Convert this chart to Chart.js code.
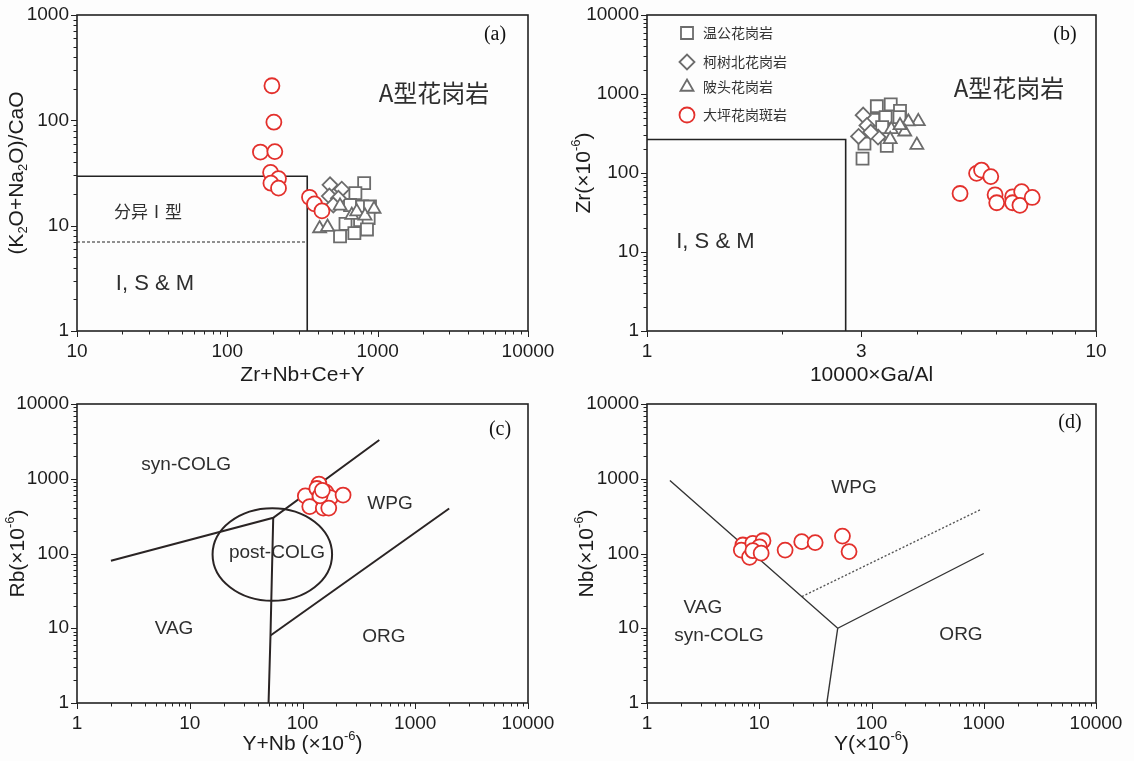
<!DOCTYPE html>
<html>
<head>
<meta charset="utf-8">
<script src="https://cdn.jsdelivr.net/npm/chart.js@4.4.1/dist/chart.umd.min.js"></script>
<style>
  html, body { margin: 0; padding: 0; background: #fdfdfd; }
  #wrap { position: relative; width: 1134px; height: 761px; overflow: hidden; background: #fdfdfd; }
  canvas { position: absolute; }
</style>
</head>
<body>
<div id="wrap">
  <canvas id="chartA" width="567" height="390" style="left:0;top:0;width:567px;height:390px"></canvas>
  <canvas id="chartB" width="567" height="390" style="left:567px;top:0;width:567px;height:390px"></canvas>
  <canvas id="chartC" width="567" height="371" style="left:0;top:390px;width:567px;height:371px"></canvas>
  <canvas id="chartD" width="567" height="371" style="left:567px;top:390px;width:567px;height:371px"></canvas>
</div>
<script>
// ---- sample groups ----
const groups = ['温公花岗岩', '柯树北花岗岩', '陂头花岗岩', '大坪花岗斑岩'];

// ---- (a) Zr+Nb+Ce+Y vs (K2O+Na2O)/CaO ----
const aWengong  = [[813,25.3],[711,20.4],[655,15.7],[790,15.2],[889,15.2],[611,10.4],[764,11.3],[871,11.8],[562,7.9],[700,8.5],[849,9.2]];
const aKeshubei = [[482,24.4],[577,22.2],[477,19.1],[548,18.2],[507,15.7]];
const aBeitou   = [[411,9.4],[464,9.7],[562,15.4],[673,12.6],[726,13.6],[824,12.4],[946,14.4]];
const aDaping   = [[198,213],[204,96],[166,50],[207,50.5],[194,32],[219,28],[195,25.3],[219,22.7],[352,18.6],[380,16.1],[426,13.8]];
const aBoundary = [[10,29.5],[340,29.5],[340,1]];
const aFractionated = [[10,7],[340,7]];
const aXLabels = [10, 100, 1000, 10000];
const aYLabels = [1, 10, 100, 1000];

// ---- (b) 10000*Ga/Al vs Zr ----
const bWengong  = [[3.25,700],[3.49,740],[3.66,610],[3.19,470],[3.40,510],[3.65,510],[3.34,380],[3.05,235],[3.42,220],[3.02,152]];
const bKeshubei = [[3.03,540],[3.09,400],[2.96,290],[3.27,285],[3.15,330]];
const bBeitou   = [[4.02,450],[3.99,226],[3.82,446],[3.50,357],[3.48,267],[3.75,333],[3.66,400]];
const bDaping   = [[4.98,55],[5.42,99],[5.56,109],[5.83,90],[5.96,53],[6.01,42],[6.52,50],[6.52,42],[6.83,58],[6.77,39],[7.21,49]];
const bBoundary = [[1,265],[2.77,265],[2.77,1]];
const bXLabels = [1, 3, 10];
const bYLabels = [1, 10, 100, 1000, 10000];

// ---- (c) Y+Nb vs Rb ----
const cDaping = [[106,590],[140,850],[134,740],[161,660],[177,560],[229,605],[116,425],[153,405],[171,405],[143,590],[150,700]];
const cSynWpg = [[2,80],[55,300],[480,3300]];
const cVagOrg = [[50,1],[52,8],[55,300]];
const cWpgOrg = [[52,8],[2000,400]];
const cPostColgCenter = [54, 97];      // ellipse centre (Y+Nb, Rb)
const cPostColgSpan = [0.53, 0.62];    // half axes, in decades
const cXLabels = [1, 10, 100, 1000, 10000];
const cYLabels = [1, 10, 100, 1000, 10000];

// ---- (d) Y vs Nb ----
const dDaping = [[7.15,130],[6.92,111],[8.77,137],[10.8,148],[10.05,123],[8.2,89],[8.77,109],[10.4,101],[17.0,111],[23.9,144],[31.5,140],[55.1,171],[63.1,106]];
const dVagWpg = [[1.6,950],[50,10],[1000,100]];
const dVagOrg = [[50,10],[40,1]];
const dWpgOrg = [[24,26.5],[930,385]];
const dXLabels = [1, 10, 100, 1000, 10000];
const dYLabels = [1, 10, 100, 1000, 10000];

// ---- styling ----
const FONT = '"Liberation Sans", Arial, sans-serif';
const CJK = '"Noto Sans CJK SC", sans-serif';
const SERIF = '"Liberation Serif", "Times New Roman", serif';
const RED = '#e3302c';
const GRAY = '#6c6c6c';
const INK = '#222222';
const FILL = '#ffffff';

const pts = arr => arr.map(([x, y]) => ({ x, y }));

function pointSet(label, data, style, color, radius, order) {
  return {
    type: 'scatter', label, data: pts(data), order,
    pointStyle: style, pointRadius: radius, pointHoverRadius: radius,
    pointBorderWidth: 1.8, pointBorderColor: color, pointBackgroundColor: FILL,
    borderColor: color, backgroundColor: FILL, showLine: false
  };
}
function lineSet(data, width, color, dash) {
  return {
    type: 'line', data: pts(data), order: 10, showLine: true, fill: false, tension: 0,
    borderColor: color, borderWidth: width, borderDash: dash || [], pointRadius: 0, pointHoverRadius: 0
  };
}

// decade ticks with the 2..9 minors in between
function tickValues(min, max) {
  const out = [];
  for (let d = min; d <= max * 1.0001; d *= 10) {
    for (let k = 1; k <= 9; k++) {
      const v = Math.round(d * k * 1e6) / 1e6;
      if (v <= max * 1.0001) out.push(v);
    }
  }
  return out;
}

function axis(dir, o) {
  return {
    type: 'logarithmic',
    position: dir === 'x' ? 'bottom' : 'left',
    min: o.min, max: o.max,
    afterBuildTicks(scale) { scale.ticks = tickValues(o.min, o.max).map(v => ({ value: v })); },
    ticks: {
      autoSkip: false, maxRotation: 0, minRotation: 0,
      padding: dir === 'x' ? 9 : 8,
      color: '#1c1c1c',
      font: { family: FONT, size: 19 },
      callback: v => o.labels.some(l => Math.abs(l - v) < 1e-9 * l) ? String(v) : ''
    },
    grid: { display: false, drawTicks: false },
    border: { display: false },
    afterFit(scale) {
      if (dir === 'x') scale.height = o.size; else scale.width = o.size;
      scale.paddingLeft = scale.paddingRight = scale.paddingTop = scale.paddingBottom = 0;
    }
  };
}

function richText(ctx, parts, x, y, size, rotate) {
  ctx.save();
  ctx.translate(x, y);
  if (rotate) ctx.rotate(-Math.PI / 2);
  ctx.textBaseline = 'middle';
  ctx.textAlign = 'left';
  ctx.fillStyle = '#1c1c1c';
  const fontFor = m => `${m ? Math.round(size * 0.6) : size}px ${FONT}`;
  const widths = parts.map(([t, m]) => { ctx.font = fontFor(m); return ctx.measureText(t).width; });
  let cx = -widths.reduce((s, w) => s + w, 0) / 2;
  parts.forEach(([t, m], i) => {
    ctx.font = fontFor(m);
    const dy = m === 'sub' ? size * 0.3 : m === 'sup' ? -size * 0.36 : 0;
    ctx.fillText(t, cx, dy);
    cx += widths[i];
  });
  ctx.restore();
}

function shape(ctx, style, x, y, r) {
  ctx.beginPath();
  if (style === 'rect') {
    const s = r * Math.SQRT1_2;
    ctx.rect(x - s, y - s, 2 * s, 2 * s);
  } else if (style === 'rectRot') {
    ctx.moveTo(x - r, y); ctx.lineTo(x, y - r); ctx.lineTo(x + r, y); ctx.lineTo(x, y + r); ctx.closePath();
  } else if (style === 'triangle') {
    ctx.moveTo(x, y - r); ctx.lineTo(x + 0.866 * r, y + 0.5 * r); ctx.lineTo(x - 0.866 * r, y + 0.5 * r); ctx.closePath();
  } else {
    ctx.arc(x, y, r, 0, Math.PI * 2);
  }
  ctx.fill();
  ctx.stroke();
}

// frame, tick marks, region names, axis titles, panel tag (and optional ellipse / legend)
function decorations(o) {
  return {
    id: 'decorations',
    beforeDatasetsDraw(chart) {
      const { ctx, chartArea: a } = chart;
      const xs = chart.scales.x, ys = chart.scales.y;
      ctx.save();
      // tick marks pointing outward
      ctx.strokeStyle = INK; ctx.lineWidth = 1;
      ctx.beginPath();
      xs.ticks.forEach(t => {
        const p = Math.round(xs.getPixelForValue(t.value)) + 0.5;
        const L = t.label ? 6 : 3.5;
        ctx.moveTo(p, a.bottom); ctx.lineTo(p, a.bottom + L);
      });
      ys.ticks.forEach(t => {
        const p = Math.round(ys.getPixelForValue(t.value)) + 0.5;
        const L = t.label ? 6 : 3.5;
        ctx.moveTo(a.left - L, p); ctx.lineTo(a.left, p);
      });
      ctx.stroke();
      // region names
      ctx.fillStyle = '#2e2e2e';
      ctx.textAlign = 'center'; ctx.textBaseline = 'middle';
      o.notes.forEach(n => {
        ctx.font = n.font;
        ctx.fillText(n.text, xs.getPixelForValue(n.x), ys.getPixelForValue(n.y));
      });
      // post-collisional field
      if (o.ellipse) {
        const [ex, ey] = o.ellipse.center, [sx, sy] = o.ellipse.span;
        const cx = xs.getPixelForValue(ex), cy = ys.getPixelForValue(ey);
        const rx = xs.getPixelForValue(ex * Math.pow(10, sx)) - cx;
        const ry = cy - ys.getPixelForValue(ey * Math.pow(10, sy));
        ctx.strokeStyle = '#2a2424'; ctx.lineWidth = 2;
        ctx.beginPath(); ctx.ellipse(cx, cy, rx, ry, 0, 0, Math.PI * 2); ctx.stroke();
      }
      ctx.restore();
    },
    afterDraw(chart) {
      const { ctx, chartArea: a } = chart;
      ctx.save();
      ctx.strokeStyle = INK; ctx.lineWidth = 1.6;
      ctx.strokeRect(a.left, a.top, a.right - a.left, a.bottom - a.top);
      // panel tag
      ctx.fillStyle = '#111'; ctx.font = `20px ${SERIF}`;
      ctx.textAlign = 'center'; ctx.textBaseline = 'middle';
      ctx.fillText(o.tag, a.right + o.tagAt[0], a.top + o.tagAt[1]);
      // axis titles
      richText(ctx, o.xTitle, (a.left + a.right) / 2, o.xTitleY, 21, false);
      richText(ctx, o.yTitle, o.yTitleX, (a.top + a.bottom) / 2, 21, true);
      // symbol key
      if (o.legend) {
        const rows = [18, 47, 72, 100];
        chart.data.datasets.filter(d => d.label).forEach((d, i) => {
          const y = a.top + rows[i];
          ctx.fillStyle = FILL; ctx.strokeStyle = d.pointBorderColor; ctx.lineWidth = 1.8;
          shape(ctx, d.pointStyle, a.left + 40, y, d.pointRadius);
          ctx.fillStyle = '#333'; ctx.font = `14px ${CJK}`;
          ctx.textAlign = 'left';
          ctx.fillText(d.label, a.left + 56, y);
        });
      }
      ctx.restore();
    }
  };
}

function build(id, o) {
  return new Chart(document.getElementById(id), {
    type: 'scatter',
    data: { datasets: o.datasets },
    options: {
      responsive: false, animation: false, events: [],
      layout: { padding: { top: o.pad.top, right: o.pad.right, bottom: 0, left: 0 } },
      plugins: { legend: { display: false }, tooltip: { enabled: false } },
      scales: { x: axis('x', o.x), y: axis('y', o.y) }
    },
    plugins: [decorations(o)]
  });
}

const SUP6 = [['-6', 'sup']];

build('chartA', {
  datasets: [
    pointSet(groups[0], aWengong, 'rect', GRAY, 8.5, 4),
    pointSet(groups[1], aKeshubei, 'rectRot', GRAY, 7.5, 3),
    pointSet(groups[2], aBeitou, 'triangle', GRAY, 7.5, 2),
    pointSet(groups[3], aDaping, 'circle', RED, 7.5, 1),
    lineSet(aBoundary, 1.6, INK),
    lineSet(aFractionated, 1.2, INK, [3, 2])
  ],
  x: { min: 10, max: 10000, labels: aXLabels, size: 59 },
  y: { min: 1, max: 1000, labels: aYLabels, size: 77 },
  pad: { top: 15, right: 39 },
  notes: [
    { text: 'A型花岗岩', x: 2370, y: 182, font: `24px ${CJK}` },
    { text: '分异Ⅰ型', x: 29.7, y: 13.5, font: `17px ${CJK}` },
    { text: 'I, S & M', x: 33, y: 2.8, font: `22px ${FONT}` }
  ],
  tag: '(a)', tagAt: [-33, 20],
  xTitle: [['Zr+Nb+Ce+Y', '']], xTitleY: 375,
  yTitle: [['(K', ''], ['2', 'sub'], ['O+Na', ''], ['2', 'sub'], ['O)/CaO', '']], yTitleX: 17
});

build('chartB', {
  datasets: [
    pointSet(groups[0], bWengong, 'rect', GRAY, 8.5, 4),
    pointSet(groups[1], bKeshubei, 'rectRot', GRAY, 7.5, 3),
    pointSet(groups[2], bBeitou, 'triangle', GRAY, 7.5, 2),
    pointSet(groups[3], bDaping, 'circle', RED, 7.5, 1),
    lineSet(bBoundary, 1.6, INK)
  ],
  x: { min: 1, max: 10, labels: bXLabels, size: 59 },
  y: { min: 1, max: 10000, labels: bYLabels, size: 80 },
  pad: { top: 15, right: 38 },
  notes: [
    { text: 'A型花岗岩', x: 6.4, y: 1190, font: `24px ${CJK}` },
    { text: 'I, S & M', x: 1.42, y: 13.4, font: `22px ${FONT}` }
  ],
  legend: true,
  tag: '(b)', tagAt: [-31, 20],
  xTitle: [['10000×Ga/Al', '']], xTitleY: 375,
  yTitle: [['Zr(×10', ''], ...SUP6, [')', '']], yTitleX: 17
});

build('chartC', {
  datasets: [
    pointSet(groups[3], cDaping, 'circle', RED, 7.5, 1),
    lineSet(cSynWpg, 2, '#2a2424'),
    lineSet(cVagOrg, 2, '#2a2424'),
    lineSet(cWpgOrg, 2, '#2a2424')
  ],
  x: { min: 1, max: 10000, labels: cXLabels, size: 58 },
  y: { min: 1, max: 10000, labels: cYLabels, size: 77 },
  pad: { top: 14, right: 39 },
  ellipse: { center: cPostColgCenter, span: cPostColgSpan },
  notes: [
    { text: 'syn-COLG', x: 9.3, y: 1527, font: `19px ${FONT}` },
    { text: 'WPG', x: 597, y: 459, font: `19px ${FONT}` },
    { text: 'post-COLG', x: 59.4, y: 101, font: `19px ${FONT}` },
    { text: 'VAG', x: 7.25, y: 9.8, font: `19px ${FONT}` },
    { text: 'ORG', x: 528, y: 7.6, font: `19px ${FONT}` }
  ],
  tag: '(c)', tagAt: [-28, 26],
  xTitle: [['Y+Nb (×10', ''], ...SUP6, [')', '']], xTitleY: 354,
  yTitle: [['Rb(×10', ''], ...SUP6, [')', '']], yTitleX: 18
});

build('chartD', {
  datasets: [
    pointSet(groups[3], dDaping, 'circle', RED, 7.5, 1),
    lineSet(dVagWpg, 1.4, '#333'),
    lineSet(dVagOrg, 1.4, '#333'),
    lineSet(dWpgOrg, 1.4, '#555', [2, 2])
  ],
  x: { min: 1, max: 10000, labels: dXLabels, size: 58 },
  y: { min: 1, max: 10000, labels: dYLabels, size: 80 },
  pad: { top: 14, right: 38 },
  notes: [
    { text: 'WPG', x: 69.8, y: 752, font: `19px ${FONT}` },
    { text: 'VAG', x: 3.15, y: 18.7, font: `19px ${FONT}` },
    { text: 'syn-COLG', x: 4.38, y: 7.9, font: `19px ${FONT}` },
    { text: 'ORG', x: 627, y: 8.1, font: `19px ${FONT}` }
  ],
  tag: '(d)', tagAt: [-26, 19],
  xTitle: [['Y(×10', ''], ...SUP6, [')', '']], xTitleY: 354,
  yTitle: [['Nb(×10', ''], ...SUP6, [')', '']], yTitleX: 20
});
</script>
</body>
</html>
